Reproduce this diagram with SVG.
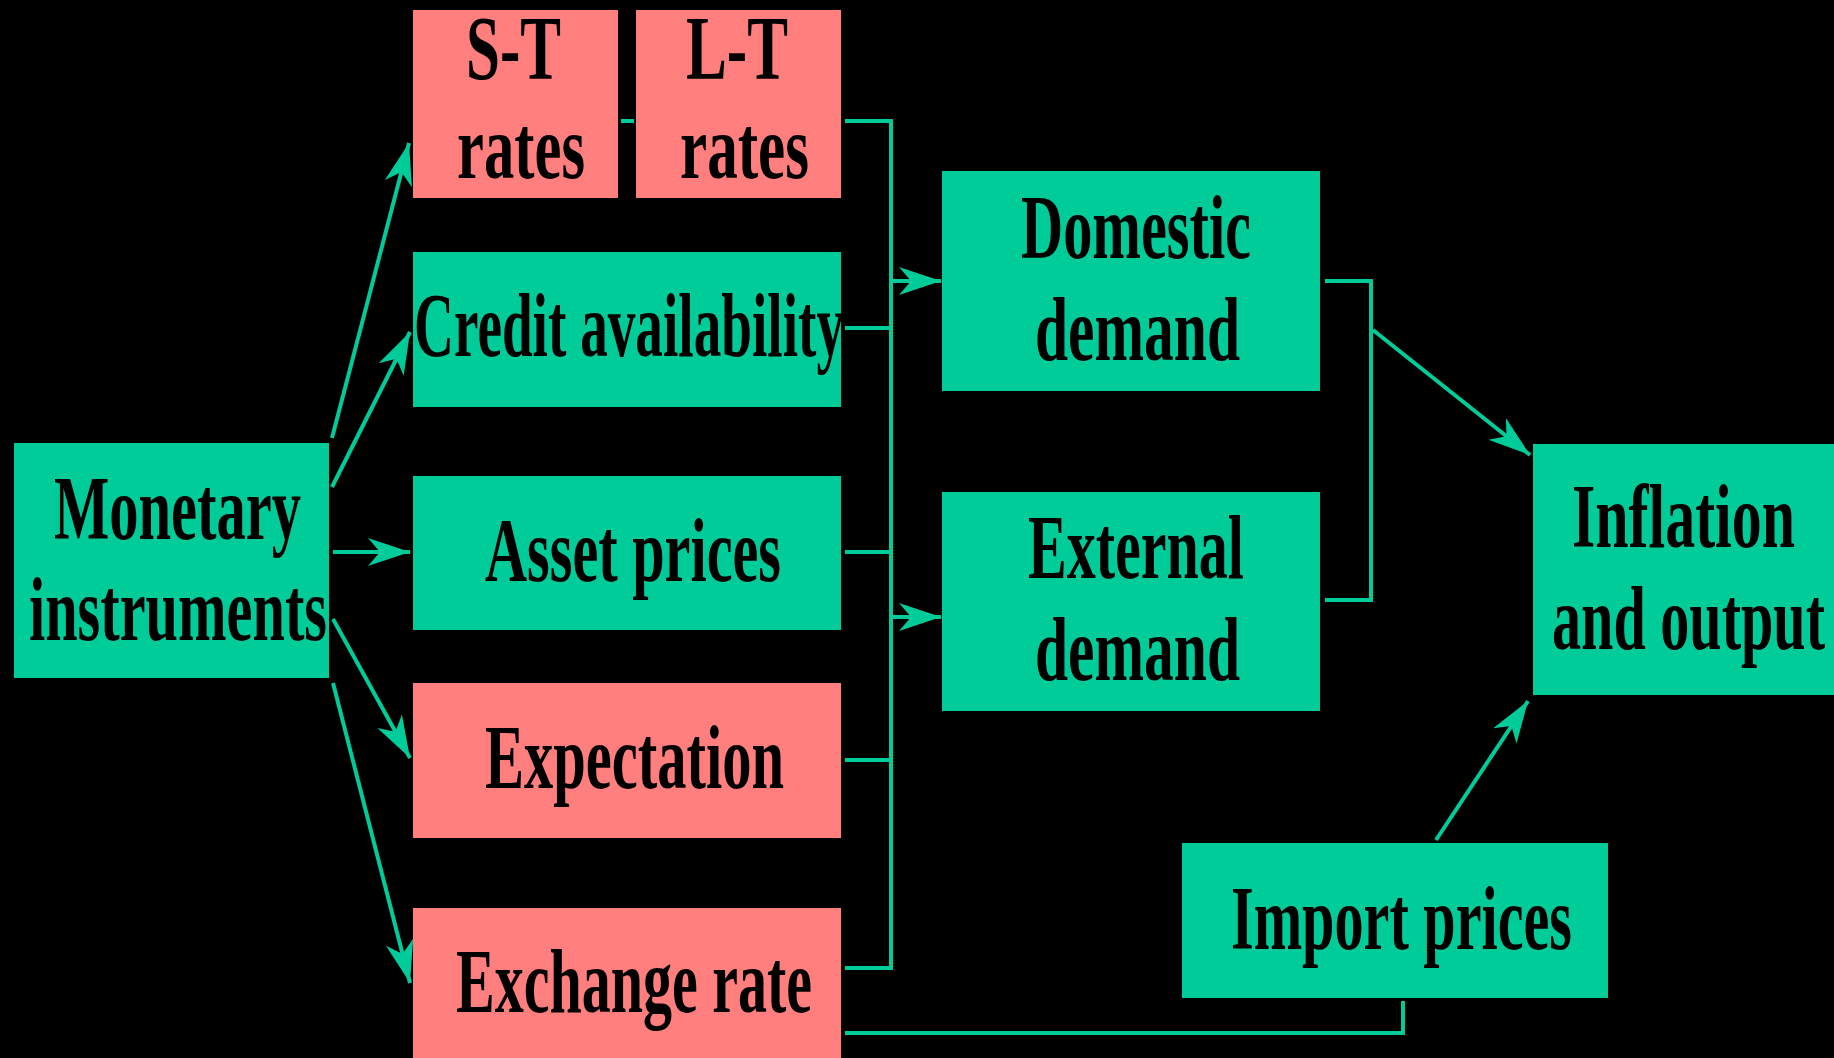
<svg xmlns="http://www.w3.org/2000/svg" width="1834" height="1058" viewBox="0 0 1834 1058">
<defs>
<style>
.g{fill:#00CC99}
.p{fill:#FF7F7F}
.t{font-family:"Liberation Serif","Times New Roman",serif;font-weight:bold;font-size:90px;fill:#000}
.c{fill:none;stroke:#00CC99;stroke-width:4}
</style>
<marker id="ah" markerUnits="userSpaceOnUse" viewBox="-44 -16 46 32" refX="0" refY="0" markerWidth="46" markerHeight="32" orient="auto">
<path d="M0,0 L-42,-14 L-30,0 L-42,14 Z" fill="#00CC99"/>
</marker>
</defs>
<rect width="1834" height="1058" fill="#000"/>
<g id="connectors">
<path class="c" d="M332,438 L409,143" marker-end="url(#ah)"/>
<path class="c" d="M332,487 L410,332" marker-end="url(#ah)"/>
<path class="c" d="M333,552 L410,552" marker-end="url(#ah)"/>
<path class="c" d="M333,619 L410,758" marker-end="url(#ah)"/>
<path class="c" d="M333,683 L410,983" marker-end="url(#ah)"/>
<path class="c" d="M621,121 L634,121"/>
<path class="c" d="M845,121 L891,121 L891,968 L845,968"/>
<path class="c" d="M845,328 L891,328"/>
<path class="c" d="M845,552 L891,552"/>
<path class="c" d="M845,760 L891,760"/>
<path class="c" d="M891,281 L941,281" marker-end="url(#ah)"/>
<path class="c" d="M891,617 L941,617" marker-end="url(#ah)"/>
<path class="c" d="M1325,281 L1371,281 L1371,600 L1325,600"/>
<path class="c" d="M1373,330 L1530,455" marker-end="url(#ah)"/>
<path class="c" d="M1436,840 L1528,701" marker-end="url(#ah)"/>
<path class="c" d="M845,1033 L1403,1033 L1403,1001"/>
</g>
<g id="monetary">
<rect class="g" x="14" y="443" width="315" height="235"/>
<text class="t" x="54" y="539" textLength="247" lengthAdjust="spacingAndGlyphs">Monetary</text>
<text class="t" x="29" y="640" textLength="298" lengthAdjust="spacingAndGlyphs">instruments</text>
</g>
<g id="st-rates">
<rect class="p" x="413" y="10" width="205" height="188"/>
<text class="t" x="466" y="79" textLength="95" lengthAdjust="spacingAndGlyphs">S-T</text>
<text class="t" x="457" y="178" textLength="128" lengthAdjust="spacingAndGlyphs">rates</text>
</g>
<g id="lt-rates">
<rect class="p" x="636" y="10" width="205" height="188"/>
<text class="t" x="686" y="79" textLength="102" lengthAdjust="spacingAndGlyphs">L-T</text>
<text class="t" x="680" y="178" textLength="129" lengthAdjust="spacingAndGlyphs">rates</text>
</g>
<g id="credit">
<rect class="g" x="413" y="252" width="428" height="155"/>
<text class="t" x="414" y="356" textLength="430" lengthAdjust="spacingAndGlyphs">Credit availability</text>
</g>
<g id="asset">
<rect class="g" x="413" y="476" width="428" height="154"/>
<text class="t" x="485" y="581" textLength="296" lengthAdjust="spacingAndGlyphs">Asset prices</text>
</g>
<g id="expectation">
<rect class="p" x="413" y="683" width="428" height="155"/>
<text class="t" x="485" y="788" textLength="299" lengthAdjust="spacingAndGlyphs">Expectation</text>
</g>
<g id="exchange">
<rect class="p" x="413" y="908" width="428" height="150"/>
<text class="t" x="456" y="1012" textLength="356" lengthAdjust="spacingAndGlyphs">Exchange rate</text>
</g>
<g id="domestic">
<rect class="g" x="942" y="171" width="378" height="220"/>
<text class="t" x="1021" y="258" textLength="230" lengthAdjust="spacingAndGlyphs">Domestic</text>
<text class="t" x="1035" y="360" textLength="205" lengthAdjust="spacingAndGlyphs">demand</text>
</g>
<g id="external">
<rect class="g" x="942" y="492" width="378" height="219"/>
<text class="t" x="1028" y="578" textLength="216" lengthAdjust="spacingAndGlyphs">External</text>
<text class="t" x="1035" y="680" textLength="205" lengthAdjust="spacingAndGlyphs">demand</text>
</g>
<g id="inflation">
<rect class="g" x="1533" y="444" width="301" height="251"/>
<text class="t" x="1572" y="547" textLength="223" lengthAdjust="spacingAndGlyphs">Inflation</text>
<text class="t" x="1552" y="649" textLength="273" lengthAdjust="spacingAndGlyphs">and output</text>
</g>
<g id="import">
<rect class="g" x="1182" y="843" width="426" height="155"/>
<text class="t" x="1231" y="949" textLength="341" lengthAdjust="spacingAndGlyphs">Import prices</text>
</g>
</svg>
